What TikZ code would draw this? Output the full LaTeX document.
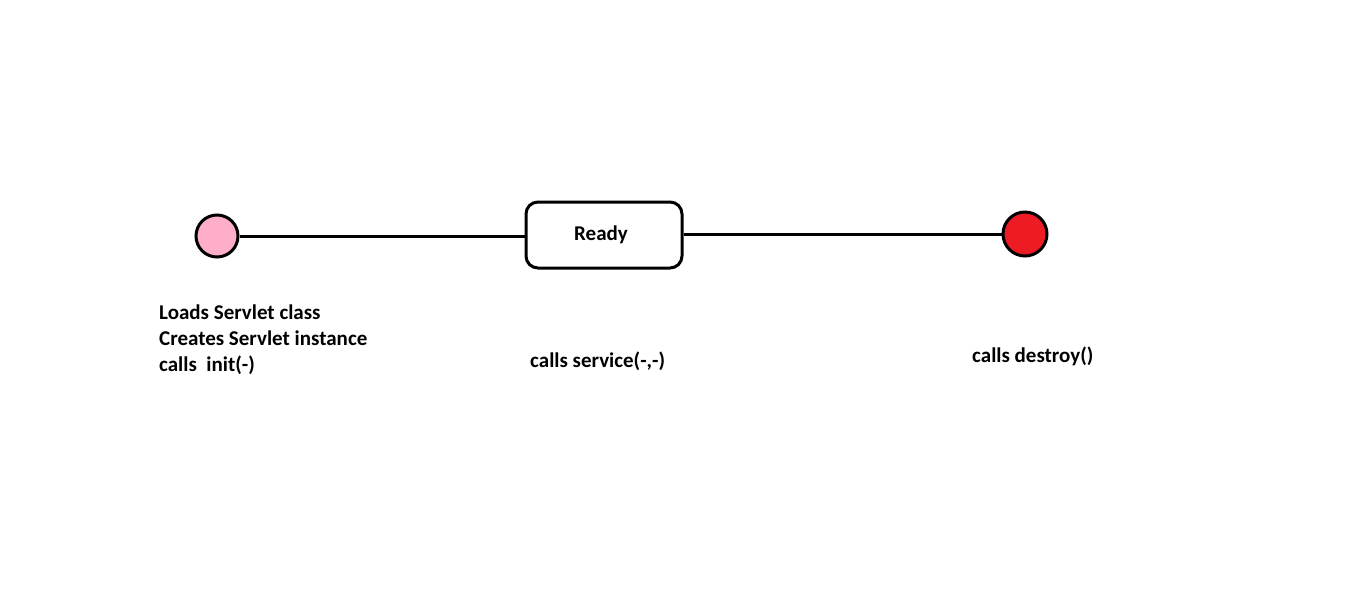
\documentclass[tikz,border=0pt]{standalone}
\usepackage{fontspec}
\setmainfont{Carlito}
\definecolor{paintpink}{HTML}{FFAEC9}
\definecolor{paintred}{HTML}{ED1C24}
\tikzset{
  px/.style={x=1pt,y=-1pt},
  statecirc/.style={circle,draw=black,line width=3pt,minimum size=42pt,inner sep=0pt},
  statebox/.style={rectangle,rounded corners=12pt,draw=black,line width=3pt,minimum width=156pt,minimum height=66pt,inner sep=0pt,font=\bfseries\fontsize{21}{25}\selectfont},
  conn/.style={line width=3pt,draw=black},
  lbl/.style={anchor=west,align=left,inner sep=0pt,font=\bfseries\fontsize{21}{26}\selectfont}
}
\begin{document}
\begin{tikzpicture}[px]
\useasboundingbox[fill=white] (0,0) rectangle (1360,613);
\node[statecirc,fill=paintpink] (start) at (217,236) {};
\node[statebox] (ready) at (604,235) {\hspace*{-6pt}\raisebox{-2pt}{Ready}};
\node[statecirc,fill=paintred,minimum size=44pt] (end) at (1025,234) {};
\draw[conn] (start.east) -- (ready.west |- start.east);
\draw[conn] (ready.east |- end.west) -- (end.west);
\node[lbl] (initlbl) at (159,340) {Loads Servlet class\\Creates Servlet instance\\calls\ \ init(-)};
\node[lbl] (servlbl) at (530,361) {calls service(-,-)};
\node[lbl] (destlbl) at (972,356) {calls destroy()};
\end{tikzpicture}
\end{document}
